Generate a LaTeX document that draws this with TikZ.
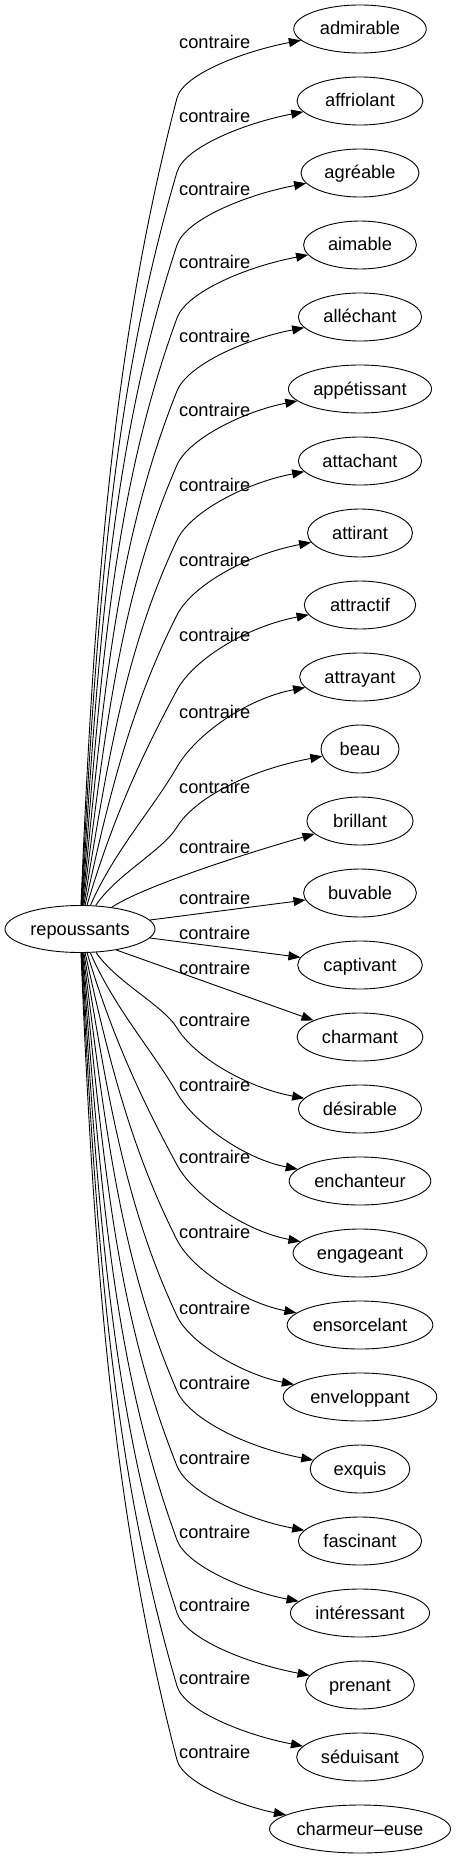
\documentclass[tikz,border=0pt]{standalone}
\usepackage{fontspec}
\setmainfont{Liberation Sans}
\usetikzlibrary{arrows.meta}
\usetikzlibrary{shapes.geometric}
\newcommand{\drawedge}{\draw[-{Triangle[length=12pt, width=9pt]}, line width=0.9pt]}
\tikzset{
    word/.style={draw, ellipse, line width=0.9pt, minimum height=48pt, inner sep=0pt, text height=12pt, text depth=0pt},
    lbl/.style={anchor=west, inner sep=0pt, text height=12pt, text depth=0pt},
}

\begin{document}
\begin{tikzpicture}[x=1pt, y=-1pt, font=\fontsize{18.25}{22}\selectfont]
    \useasboundingbox (0,0) rectangle (456,1859);

    % Source word
    \node[word, minimum width=150pt, minimum height=47pt] (src) at (80,929) {repoussants};

    % Target words
    \foreach \name/\txt/\w [count=\i from 0] in {
        admirable/admirable/132.5, affriolant/affriolant/125.9, agreable/agréable/118,
        aimable/aimable/112.8, allechant/alléchant/123.3, appetissant/appétissant/143.1,
        attachant/attachant/123.3, attirant/attirant/104.9, attractif/attractif/111.4,
        attrayant/attrayant/120.7, beau/beau/78, brillant/brillant/106.2,
        buvable/buvable/112.8, captivant/captivant/124.6, charmant/charmant/125.9,
        desirable/désirable/123.3, enchanteur/enchanteur/141.7, engageant/engageant/133.8,
        ensorcelant/ensorcelant/145.7, enveloppant/enveloppant/153.6, exquis/exquis/99.6,
        fascinant/fascinant/123.3, interessant/intéressant/139.1, prenant/prenant/108.8,
        seduisant/séduisant/126.7, charmeur/charmeur–euse/181} {
        \node[word, minimum width=\w pt] (\name) at (360,{29+72*\i}) {\txt};
    }

    % Edges going up
    \foreach \name/\ly/\ky [count=\i from 0] in {admirable/43/98, affriolant/117/172, agreable/190/245,
        aimable/263/318, allechant/336/391, appetissant/410/465, attachant/485/540, attirant/560/615,
        attractif/635/690, attrayant/712/767, beau/787/827} {
        \pgfmathsetmacro\ty{29+72*\i}
        \pgfmathsetmacro\rise{906-\ky}
        \pgfmathsetmacro\tilt{0.26+0.035*\i}
        \pgfmathsetmacro\lean{0.4-0.25*\rise/800}
        \pgfmathsetmacro\hop{0.35*(\ky-\ty)}
        \coordinate (k\i) at (177,\ky);
        \drawedge (src) .. controls ({80+\lean*97},{906-0.4*\rise}) and ({177-\tilt*0.3*\rise},{\ky+0.3*\rise}) .. (k\i)
            .. controls ({177+\tilt*\hop},{\ky-\hop}) and (245,{\ty+22}) .. (\name);
        \node[lbl] (lab\i) at (179,\ly) {contraire};
    }

    % Edges in the middle
    \drawedge (src) .. controls (140,888) and (240,855) .. (brillant);
    \drawedge (src) -- (buvable);
    \drawedge (src) -- (captivant);
    \drawedge (src.330) -- (charmant);
    \node[lbl] (lab11) at (179,847) {contraire};
    \node[lbl] (lab12) at (179,898) {contraire};
    \node[lbl] (lab13) at (179,933) {contraire};
    \node[lbl] (lab14) at (179,968) {contraire};

    % Edges going down
    \foreach \name/\ly [count=\i from 15] in {desirable/1020, enchanteur/1085, engageant/1157,
        ensorcelant/1232, enveloppant/1308, exquis/1383, fascinant/1458, interessant/1532,
        prenant/1605, seduisant/1678, charmeur/1752} {
        \pgfmathsetmacro\ky{\ly+8}
        \pgfmathsetmacro\ty{29+72*\i}
        \pgfmathsetmacro\rise{\ky-952}
        \pgfmathsetmacro\tilt{0.26+0.035*(25-\i)}
        \pgfmathsetmacro\lean{0.4-0.25*\rise/800}
        \pgfmathsetmacro\hop{0.35*(\ty-\ky)}
        \coordinate (k\i) at (177,\ky);
        \drawedge (src) .. controls ({80+\lean*97},{952+0.4*\rise}) and ({177-\tilt*0.3*\rise},{\ky-0.3*\rise}) .. (k\i)
            .. controls ({177+\tilt*\hop},{\ky+\hop}) and (245,{\ty-22}) .. (\name);
        \node[lbl] (lab\i) at (179,\ly) {contraire};
    }
\end{tikzpicture}
\end{document}
